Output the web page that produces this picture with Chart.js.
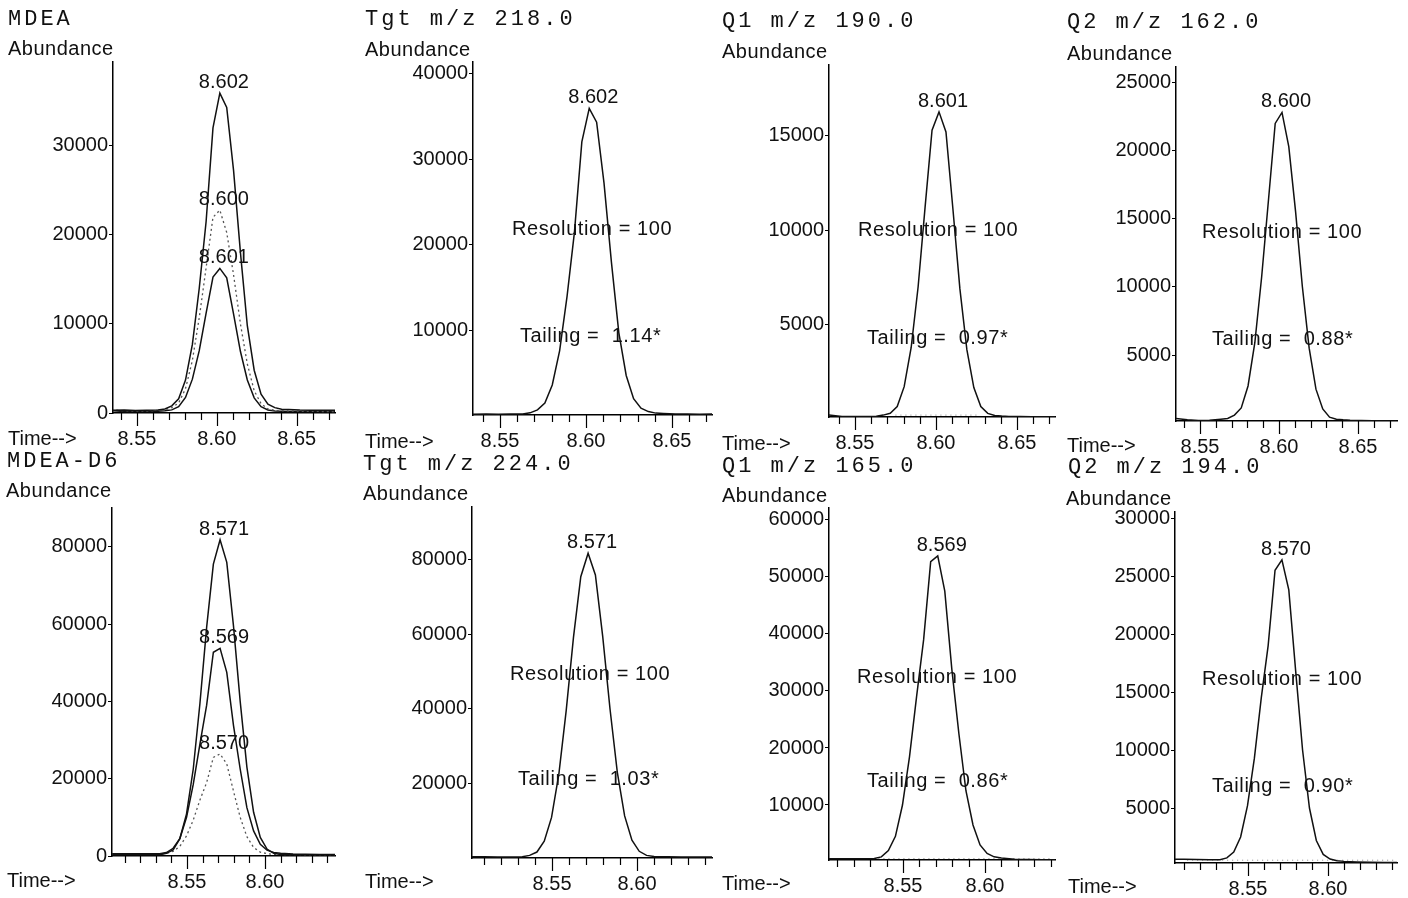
<!DOCTYPE html>
<html>
<head>
<meta charset="utf-8">
<title>MDEA / MDEA-D6 ion chromatograms</title>
<script src="https://cdn.jsdelivr.net/npm/chart.js@4.4.1/dist/chart.umd.min.js"></script>
<style>
html, body { margin: 0; padding: 0; background: #fff; }
#page { position: relative; width: 1408px; height: 898px; overflow: hidden; background: #fff; }
#page canvas { position: absolute; left: 0; top: 0; }
</style>
</head>
<body>
<div id="page"></div>
<script>
// scan times (min)
var times_top = [8.534, 8.542, 8.549, 8.556, 8.5632, 8.5675, 8.5718, 8.5761, 8.5804, 8.5847, 8.5890, 8.5933, 8.5976, 8.6019,
                 8.6062, 8.6105, 8.6148, 8.6191, 8.6234, 8.6277, 8.6320, 8.6363, 8.6406, 8.645, 8.652, 8.659, 8.666, 8.674];
var times_bottom = [8.502, 8.510, 8.518, 8.526, 8.5325, 8.5368, 8.5411, 8.5454, 8.5497, 8.5540, 8.5583, 8.5626, 8.5669, 8.5712,
                    8.5755, 8.5798, 8.5841, 8.5884, 8.5927, 8.5970, 8.6013, 8.6056, 8.610, 8.618, 8.626, 8.635, 8.645];

// MDEA ions
var tgt_218 = [300, 330, 290, 310, 330, 450, 800, 1600, 3700, 7700, 14000, 21500, 32000, 35900,
               34300, 27200, 18000, 9800, 4800, 2100, 1000, 600, 420, 380, 330, 310, 300, 320];
var q1_190 = [260, 180, 170, 170, 190, 250, 350, 700, 1750, 3800, 7000, 11200, 15260, 16230,
              15170, 11100, 6900, 3700, 1700, 700, 340, 230, 200, 180, 170, 160, 160, 160];
var q2_162 = [350, 250, 200, 220, 300, 350, 600, 1120, 2730, 5900, 10700, 16300, 21970, 22770,
              20260, 15500, 10000, 5500, 2500, 1050, 450, 300, 250, 220, 200, 180, 170, 170];

// MDEA-D6 ions
var tgt_224 = [300, 350, 300, 300, 350, 700, 1600, 4500, 10900, 22500, 39500, 59200, 75500, 81800,
               75950, 59500, 40000, 23000, 11300, 4800, 1800, 700, 400, 320, 300, 300, 300];
var q1_165 = [600, 550, 550, 550, 600, 900, 2000, 4500, 10000, 18500, 29000, 39000, 52700, 53700,
              47500, 33800, 22500, 12500, 6500, 3000, 1500, 900, 700, 500, 450, 400, 400];
var q2_194 = [600, 580, 560, 550, 550, 700, 1200, 2500, 5200, 9300, 14500, 19000, 25500, 26400,
              23800, 16800, 10000, 5000, 2200, 1000, 600, 450, 400, 350, 320, 300, 300];

// dotted integration baselines [start, end] and level
var base_190_t = [8.575, 8.625]; var base_190_v = [250, 250];
var base_165_t = [8.532, 8.641]; var base_165_v = [600, 600];
var base_194_t = [8.512, 8.641]; var base_194_v = [500, 500];

// peak retention times printed on the plots
var rt_tgt_218 = "8.602", rt_q1_190 = "8.601", rt_q2_162 = "8.600";
var rt_tgt_224 = "8.571", rt_q1_165 = "8.569", rt_q2_194 = "8.570";
var tailing_218 = "1.14", tailing_190 = "0.97", tailing_162 = "0.88";
var tailing_224 = "1.03", tailing_165 = "0.86", tailing_194 = "0.90";
var resolution = "100";

// axis ticks
var x_major_top = [8.55, 8.60, 8.65];
var x_minor_top = [8.54, 8.55, 8.56, 8.57, 8.58, 8.59, 8.60, 8.61, 8.62, 8.63, 8.64, 8.65, 8.66, 8.67];
var x_major_bottom = [8.55, 8.60];
var x_minor_bottom = [8.51, 8.52, 8.53, 8.54, 8.55, 8.56, 8.57, 8.58, 8.59, 8.60, 8.61, 8.62, 8.63, 8.64];
var y_ticks_mdea = [0, 10000, 20000, 30000];
var y_ticks_218 = [10000, 20000, 30000, 40000];
var y_ticks_190 = [5000, 10000, 15000];
var y_ticks_162 = [5000, 10000, 15000, 20000, 25000];
var y_ticks_d6 = [0, 20000, 40000, 60000, 80000];
var y_ticks_224 = [20000, 40000, 60000, 80000];
var y_ticks_165 = [10000, 20000, 30000, 40000, 50000, 60000];
var y_ticks_194 = [5000, 10000, 15000, 20000, 25000, 30000];

// canvases are taller than the page so the x labels of the last row fit in the scale box
var W = 1408, H = 960, Y_W = 80, X_H = 50;
var SANS = "'Liberation Sans', Arial, sans-serif";
var MONO = "'Liberation Mono', 'Courier New', monospace";

function pts(t, v) {
    return t.map(function(x, i) { return {x: x, y: v[i]}; });
}

function trace(t, v, dotted) {
    return {
        data: pts(t, v),
        borderColor: dotted ? "#555" : "#111",
        borderWidth: dotted ? 1.3 : 1.5,
        borderDash: dotted ? [2, 3] : [],
        pointRadius: 0,
        tension: 0,
        fill: false
    };
}

function base_line(t, v) {
    return {
        data: pts(t, v),
        borderColor: "#888",
        borderWidth: 1,
        borderDash: [1, 4],
        pointRadius: 0,
        tension: 0,
        fill: false
    };
}

var panel_text = {
    id: "panel_text",
    afterDatasetsDraw: function(chart) {
        var o = chart.options.plugins.panel_text;
        var ctx = chart.ctx;
        var xs = chart.scales.x, ys = chart.scales.y, area = chart.chartArea;
        ctx.save();
        // x tick marks, long at the labelled ones
        ctx.strokeStyle = "#000";
        ctx.lineWidth = 1.2;
        o.minor.forEach(function(v) {
            var px = Math.round(xs.getPixelForValue(v)) + 0.5;
            var len = o.major.indexOf(v) >= 0 ? 13 : 7;
            ctx.beginPath();
            ctx.moveTo(px, area.bottom);
            ctx.lineTo(px, area.bottom + len);
            ctx.stroke();
        });
        ctx.fillStyle = "#111";
        ctx.textBaseline = "alphabetic";
        // peak labels
        ctx.font = "20px " + SANS;
        ctx.textAlign = "center";
        (o.peaks || []).forEach(function(p) {
            var d = chart.data.datasets[p.ds].data;
            var best = d[0];
            d.forEach(function(q) { if (q.y > best.y) best = q; });
            var px = xs.getPixelForValue(best.x), py = ys.getPixelForValue(best.y);
            ctx.fillText(p.text, px + 4, py - 5);
        });
        ctx.textAlign = "left";
        o.texts.forEach(function(t) {
            ctx.font = t.mono ? "22px " + MONO : "20px " + SANS;
            if ("letterSpacing" in ctx) ctx.letterSpacing = t.mono ? "3px" : (t.sp || "0px");
            ctx.fillText(t.s, t.x, t.y);
        });
        ctx.restore();
    }
};

function make_panel(p) {
    var cv = document.createElement("canvas");
    cv.width = W;
    cv.height = H;
    document.getElementById("page").appendChild(cv);
    var texts = [
        {s: p.title, x: p.title_at[0], y: p.title_at[1], mono: true},
        {s: "Abundance", x: p.abund_at[0], y: p.abund_at[1], sp: "0.5px"},
        {s: "Time-->", x: p.time_at[0], y: p.time_at[1]}
    ];
    if (p.tailing) {
        texts.push({s: "Resolution = " + resolution, x: p.res_at[0], y: p.res_at[1], sp: "0.6px"});
        texts.push({s: "Tailing =  " + p.tailing + "*", x: p.tail_at[0], y: p.tail_at[1], sp: "0.6px"});
    }
    return new Chart(cv, {
        type: "line",
        data: {datasets: p.datasets},
        options: {
            responsive: false,
            devicePixelRatio: 1,
            animation: false,
            events: [],
            layout: {
                padding: {
                    left: p.box[0] - Y_W,
                    top: p.box[1],
                    right: W - p.box[2],
                    bottom: H - p.box[3] - X_H
                }
            },
            plugins: {
                legend: {display: false},
                tooltip: {enabled: false},
                panel_text: {minor: p.x_minor, major: p.x_major, peaks: p.peaks, texts: texts}
            },
            scales: {
                x: {
                    type: "linear",
                    min: p.x_range[0],
                    max: p.x_range[1],
                    afterBuildTicks: function(s) { s.ticks = p.x_major.map(function(v) { return {value: v}; }); },
                    afterFit: function(s) { s.height = X_H; },
                    grid: {display: false, drawTicks: false},
                    border: {display: true, color: "#000", width: 1.5},
                    ticks: {
                        padding: 14,
                        maxRotation: 0,
                        autoSkip: false,
                        color: "#111",
                        font: {family: SANS, size: 20},
                        callback: function(v) { return v.toFixed(2); }
                    }
                },
                y: {
                    type: "linear",
                    min: p.y_range[0],
                    max: p.y_range[1],
                    afterBuildTicks: function(s) { s.ticks = p.y_ticks.map(function(v) { return {value: v}; }); },
                    afterFit: function(s) { s.width = Y_W; },
                    grid: {display: true, drawOnChartArea: false, drawTicks: true, tickLength: 4, color: "#000", lineWidth: 1},
                    border: {display: true, color: "#000", width: 1.5},
                    ticks: {
                        padding: 1,
                        autoSkip: false,
                        color: "#111",
                        font: {family: SANS, size: 20},
                        callback: function(v) { return String(v); }
                    }
                }
            }
        },
        plugins: [panel_text]
    });
}

// top row: MDEA
make_panel({
    box: [113, 62, 335, 413], x_range: [8.535, 8.674], y_range: [0, 39400], y_ticks: y_ticks_mdea,
    x_major: x_major_top, x_minor: x_minor_top,
    datasets: [trace(times_top, tgt_218), trace(times_top, q2_162, true), trace(times_top, q1_190)],
    peaks: [{ds: 0, text: rt_tgt_218}, {ds: 1, text: rt_q2_162}, {ds: 2, text: rt_q1_190}],
    title: "MDEA", title_at: [8, 25], abund_at: [8, 55], time_at: [8, 445]
});
make_panel({
    box: [473, 62, 712, 415], x_range: [8.5343, 8.6733], y_range: [200, 41300], y_ticks: y_ticks_218,
    x_major: x_major_top, x_minor: x_minor_top,
    datasets: [trace(times_top, tgt_218)],
    peaks: [{ds: 0, text: rt_tgt_218}],
    title: "Tgt m/z 218.0", title_at: [365, 25], abund_at: [365, 56], time_at: [365, 448],
    tailing: tailing_218, res_at: [512, 235], tail_at: [520, 342]
});
make_panel({
    box: [829, 65, 1055, 417], x_range: [8.534, 8.6735], y_range: [150, 18700], y_ticks: y_ticks_190,
    x_major: x_major_top, x_minor: x_minor_top,
    datasets: [trace(times_top, q1_190), base_line(base_190_t, base_190_v)],
    peaks: [{ds: 0, text: rt_q1_190}],
    title: "Q1 m/z 190.0", title_at: [722, 27], abund_at: [722, 58], time_at: [722, 450],
    tailing: tailing_190, res_at: [858, 236], tail_at: [867, 344]
});
make_panel({
    box: [1176, 67, 1397, 421], x_range: [8.5348, 8.6747], y_range: [165, 26100], y_ticks: y_ticks_162,
    x_major: x_major_top, x_minor: x_minor_top,
    datasets: [trace(times_top, q2_162)],
    peaks: [{ds: 0, text: rt_q2_162}],
    title: "Q2 m/z 162.0", title_at: [1067, 28], abund_at: [1067, 60], time_at: [1067, 452],
    tailing: tailing_162, res_at: [1202, 238], tail_at: [1212, 345]
});

// bottom row: MDEA-D6
make_panel({
    box: [112, 508, 335, 856], x_range: [8.5019, 8.6449], y_range: [0, 90000], y_ticks: y_ticks_d6,
    x_major: x_major_bottom, x_minor: x_minor_bottom,
    datasets: [trace(times_bottom, tgt_224), trace(times_bottom, q1_165), trace(times_bottom, q2_194, true)],
    peaks: [{ds: 0, text: rt_tgt_224}, {ds: 1, text: rt_q1_165}, {ds: 2, text: rt_q2_194}],
    title: "MDEA-D6", title_at: [7, 467], abund_at: [6, 497], time_at: [7, 887]
});
make_panel({
    box: [472, 507, 712, 858], x_range: [8.5029, 8.6441], y_range: [0, 94200], y_ticks: y_ticks_224,
    x_major: x_major_bottom, x_minor: x_minor_bottom,
    datasets: [trace(times_bottom, tgt_224)],
    peaks: [{ds: 0, text: rt_tgt_224}],
    title: "Tgt m/z 224.0", title_at: [363, 470], abund_at: [363, 500], time_at: [365, 888],
    tailing: tailing_224, res_at: [510, 680], tail_at: [518, 785]
});
make_panel({
    box: [829, 508, 1055, 860], x_range: [8.5049, 8.6427], y_range: [350, 62100], y_ticks: y_ticks_165,
    x_major: x_major_bottom, x_minor: x_minor_bottom,
    datasets: [trace(times_bottom, q1_165), base_line(base_165_t, base_165_v)],
    peaks: [{ds: 0, text: rt_q1_165}],
    title: "Q1 m/z 165.0", title_at: [722, 472], abund_at: [722, 502], time_at: [722, 890],
    tailing: tailing_165, res_at: [857, 683], tail_at: [867, 787]
});
make_panel({
    box: [1175, 512, 1397, 863], x_range: [8.5044, 8.6431], y_range: [260, 30520], y_ticks: y_ticks_194,
    x_major: x_major_bottom, x_minor: x_minor_bottom,
    datasets: [trace(times_bottom, q2_194), base_line(base_194_t, base_194_v)],
    peaks: [{ds: 0, text: rt_q2_194}],
    title: "Q2 m/z 194.0", title_at: [1068, 473], abund_at: [1066, 505], time_at: [1068, 893],
    tailing: tailing_194, res_at: [1202, 685], tail_at: [1212, 792]
});
</script>
</body>
</html>
